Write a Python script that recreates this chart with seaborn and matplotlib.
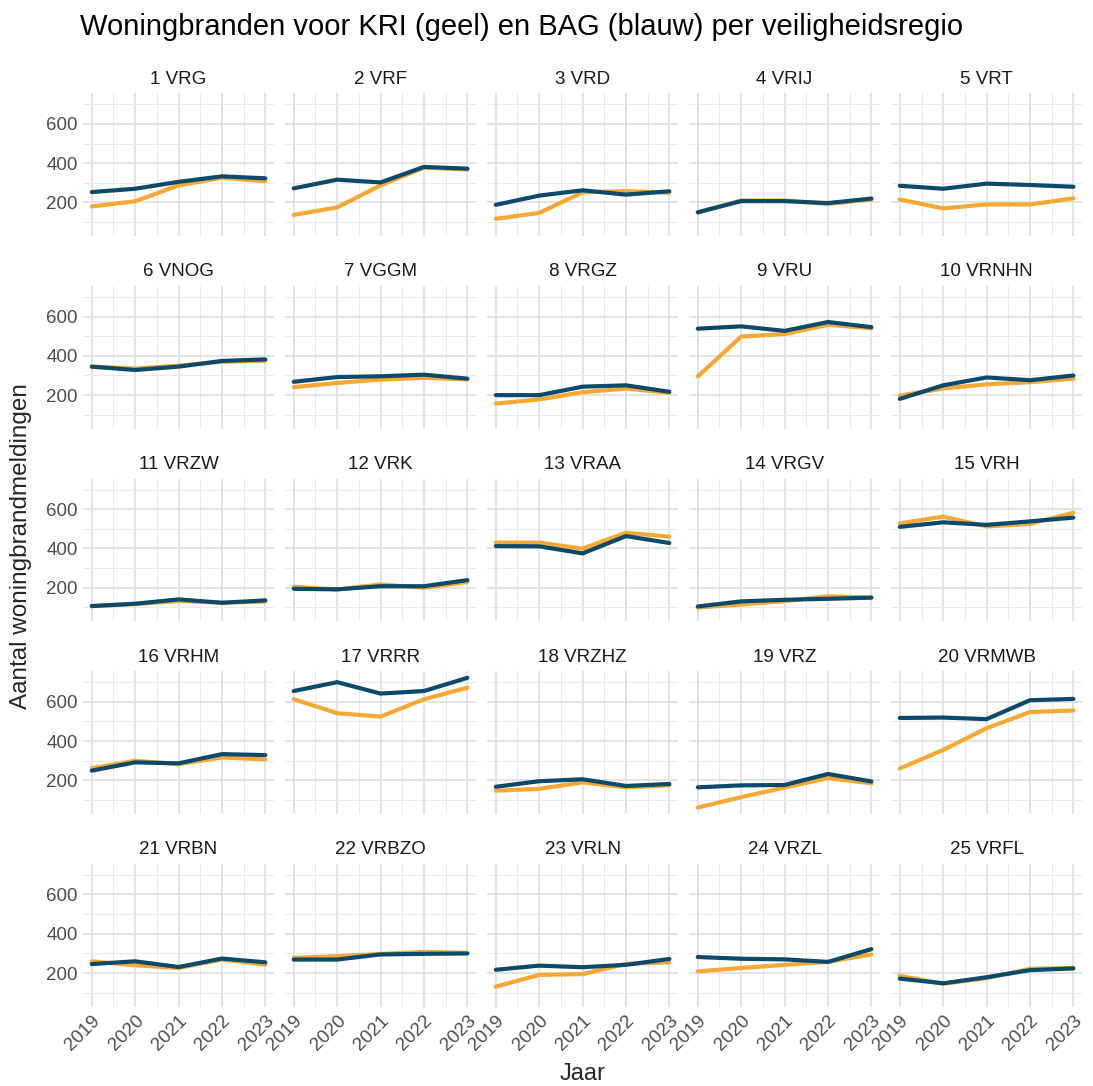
import numpy as np
import pandas as pd
import matplotlib
matplotlib.use("Agg")
import matplotlib.pyplot as plt
from matplotlib.ticker import MultipleLocator, FixedLocator
import seaborn as sns

# --- data ---
jaren = [2019, 2020, 2021, 2022, 2023]

regios = ["1 VRG", "2 VRF", "3 VRD", "4 VRIJ", "5 VRT",
          "6 VNOG", "7 VGGM", "8 VRGZ", "9 VRU", "10 VRNHN",
          "11 VRZW", "12 VRK", "13 VRAA", "14 VRGV", "15 VRH",
          "16 VRHM", "17 VRRR", "18 VRZHZ", "19 VRZ", "20 VRMWB",
          "21 VRBN", "22 VRBZO", "23 VRLN", "24 VRZL", "25 VRFL"]

# KRI (geel)
kri = [
    [180, 206, 287, 326, 308],
    [137, 175, 287, 377, 368],
    [117, 147, 252, 258, 250],
    [150, 210, 210, 193, 215],
    [215, 170, 190, 190, 221],
    [345, 335, 350, 370, 375],
    [241, 262, 279, 288, 280],
    [157, 178, 215, 233, 212],
    [295, 498, 511, 558, 540],
    [198, 234, 255, 266, 284],
    [107, 117, 133, 124, 130],
    [205, 192, 217, 200, 229],
    [430, 430, 399, 480, 460],
    [100, 115, 132, 157, 150],
    [528, 562, 512, 525, 582],
    [262, 300, 283, 317, 307],
    [613, 542, 525, 613, 672],
    [148, 157, 190, 165, 175],
    [62, 115, 164, 212, 185],
    [261, 355, 466, 548, 556],
    [260, 240, 226, 269, 243],
    [278, 286, 298, 308, 303],
    [131, 191, 195, 247, 255],
    [209, 226, 242, 257, 295],
    [186, 146, 174, 222, 226],
]

# BAG (blauw)
bag = [
    [253, 270, 305, 333, 323],
    [272, 316, 302, 381, 372],
    [188, 235, 262, 240, 257],
    [150, 207, 207, 197, 220],
    [285, 270, 296, 289, 280],
    [345, 328, 345, 374, 382],
    [268, 292, 296, 304, 284],
    [200, 200, 243, 250, 217],
    [538, 550, 527, 572, 546],
    [181, 250, 290, 276, 300],
    [107, 119, 141, 124, 136],
    [195, 192, 208, 208, 239],
    [412, 411, 375, 463, 428],
    [105, 131, 139, 144, 150],
    [510, 533, 520, 538, 557],
    [250, 292, 287, 334, 329],
    [655, 700, 642, 655, 722],
    [168, 196, 206, 172, 182],
    [165, 175, 177, 233, 195],
    [518, 520, 512, 608, 615],
    [246, 260, 231, 274, 255],
    [269, 269, 295, 298, 300],
    [217, 238, 230, 242, 272],
    [282, 273, 270, 257, 322],
    [172, 148, 179, 215, 224],
]

kleuren = {"KRI": "#f6a833", "BAG": "#0b4a6b"}

# build long table
rows = []
for i, regio in enumerate(regios):
    for bron, waarden in (("KRI", kri[i]), ("BAG", bag[i])):
        for jaar, w in zip(jaren, waarden):
            rows.append({"regio": regio, "bron": bron, "jaar": jaar, "aantal": w})
df = pd.DataFrame(rows)

sns.set_theme(style="white")
plt.rcParams["font.family"] = ["Liberation Sans", "DejaVu Sans"]

g = sns.relplot(data=df, x="jaar", y="aantal", hue="bron", hue_order=["KRI", "BAG"],
                col="regio", col_order=regios, col_wrap=5, kind="line",
                palette=kleuren, linewidth=3.0, legend=False,
                height=2, aspect=1.3, facet_kws=dict(sharex=True, sharey=True))

fig = g.figure
fig.set_size_inches(10.93, 10.86)
fig.subplots_adjust(left=0.076, right=0.990, top=0.914, bottom=0.073,
                    wspace=0.058, hspace=0.35)

g.set_titles("{col_name}", size=13.5, color="#1a1a1a", pad=7)
g.set_axis_labels("", "")

ymin, ymax = 62, 722
pad = 0.05 * (ymax - ymin)
for ax in g.axes.flat:
    ax.set_xlim(2019 - 0.2, 2023 + 0.2)
    ax.set_ylim(ymin - pad, ymax + pad)
    ax.xaxis.set_major_locator(FixedLocator(jaren))
    ax.xaxis.set_minor_locator(MultipleLocator(0.5))
    ax.yaxis.set_major_locator(FixedLocator([200, 400, 600]))
    ax.yaxis.set_minor_locator(FixedLocator([100, 300, 500, 700]))
    ax.grid(which="major", color="#e0e0e0", linewidth=1.3)
    ax.grid(which="minor", color="#eaeaea", linewidth=0.7)
    ax.set_axisbelow(True)
    for s in ax.spines.values():
        s.set_visible(False)
    ax.tick_params(which="both", length=0, labelsize=13.5, labelcolor="#4d4d4d", pad=4)
    ax.set_facecolor("white")

for ax in g.axes.flat[-5:]:
    ax.set_xticks(jaren)
    ax.set_xticklabels([str(j) for j in jaren], rotation=45, ha="right",
                       rotation_mode="anchor")
    ax.tick_params(axis="x", labelbottom=True)

fig.suptitle("Woningbranden voor KRI (geel) en BAG (blauw) per veiligheidsregio",
             x=0.073, y=0.988, ha="left", va="top", fontsize=21, color="#000000")
fig.text(0.533, 0.001, "Jaar", ha="center", va="bottom", fontsize=17)
fig.text(0.009, 0.497, "Aantal woningbrandmeldingen", rotation=90,
         ha="left", va="center", fontsize=17.5)

fig.savefig("out.png", dpi=100, facecolor="white")
